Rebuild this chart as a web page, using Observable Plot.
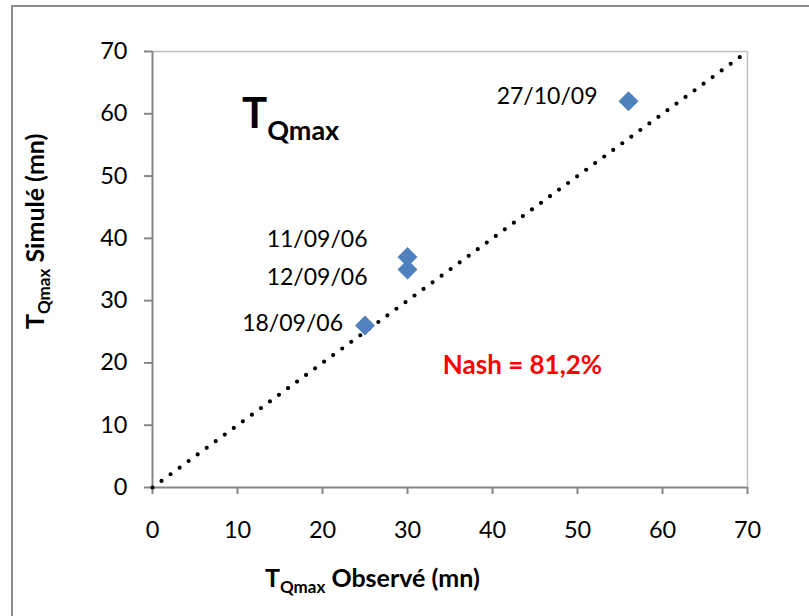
<!DOCTYPE html>
<html>
<head>
<meta charset="utf-8">
<script src="https://cdn.jsdelivr.net/npm/d3@7"></script>
<script src="https://cdn.jsdelivr.net/npm/@observablehq/plot@0.6"></script>
<style>
  html, body { margin: 0; padding: 0; background: #fff; }
  #wrap { position: relative; width: 809px; height: 616px; overflow: hidden; font-family: Lato, "Open Sans", sans-serif; }
  #frame { position: absolute; left: 11px; top: 5px; width: 900px; height: 700px; border-top: 2px solid #8c8c8c; border-left: 2px solid #8c8c8c; pointer-events: none; }
  #wrap svg { position: absolute; left: 0; top: 0; }
</style>
</head>
<body>
<div id="wrap"><div id="frame"></div></div>
<script>
const observed = [25, 30, 30, 56];
const simulated = [26, 35, 37, 62];
const dates = ["18/09/06", "12/09/06", "11/09/06", "27/10/09"];
const xTicks = [0, 10, 20, 30, 40, 50, 60, 70];
const yTicks = [0, 10, 20, 30, 40, 50, 60, 70];
const identityLine = [0, 70];
const nashLabel = "Nash = 81,2%";
const titleMain = "T", titleSub = "Qmax";
const xLabel = " Observé (mn)", yLabel = " Simulé (mn)";

const points = observed.map((x, i) => ({x, y: simulated[i], label: dates[i]}));

// label nudges (pixel offsets relative to each point)
const nudges = [
  {dx: -22, dy: -2},
  {dx: -40, dy: 8},
  {dx: -40, dy: -17},
  {dx: -31, dy: -5}
];

const axisGray = "#868686";
const frameGray = "#c0c0c0";
const FONT = "Lato, 'Open Sans', sans-serif";

const plot = Plot.plot({
  width: 809,
  height: 616,
  marginLeft: 152,
  marginRight: 62,
  marginTop: 51,
  marginBottom: 129,
  style: {fontFamily: FONT, fontSize: "23px", background: "transparent", color: "#000"},
  x: {domain: [0, 70]},
  y: {domain: [0, 70]},
  marks: [
    Plot.ruleY([70], {stroke: frameGray, strokeWidth: 1.5}),
    Plot.ruleX([70], {stroke: frameGray, strokeWidth: 1.5}),
    Plot.ruleY([0], {stroke: axisGray, strokeWidth: 2}),
    Plot.ruleX([0], {stroke: axisGray, strokeWidth: 2}),
    Plot.axisX({ticks: xTicks, tickSize: 7, tickPadding: 27, stroke: axisGray, strokeWidth: 2, fill: "#000", fontSize: 23.5, label: null, tickFormat: d => String(d)}),
    Plot.axisY({ticks: yTicks, tickSize: 8, tickPadding: 17, stroke: axisGray, strokeWidth: 2, fill: "#000", fontSize: 23.5, label: null, tickFormat: d => String(d)}),
    Plot.line(identityLine, {x: d => d, y: d => d, stroke: "#000", strokeWidth: 4.2, strokeDasharray: "0 11.2", strokeLinecap: "round"}),
    Plot.dot(points, {x: "x", y: "y", symbol: "diamond2", r: 9, fill: "#4F81BD", stroke: "none"}),
    ...points.map((p, i) => Plot.text([p], {x: "x", y: "y", text: "label", textAnchor: "end", lineAnchor: "middle", dx: nudges[i].dx, dy: nudges[i].dy, fontSize: 23, fill: "#000"})),
    Plot.text([nashLabel], {frameAnchor: "top-left", dx: 370, dy: 314, text: d => d, textAnchor: "middle", lineAnchor: "middle", fill: "#ff0000", fontSize: 26, fontWeight: "bold"})
  ]
});

document.getElementById("wrap").appendChild(plot);
const svg = d3.select(plot);

// Title T_Qmax
const title = svg.append("text")
  .attr("x", 242).attr("y", 128)
  .attr("text-anchor", "start")
  .attr("font-family", FONT)
  .attr("font-weight", "bold").attr("fill", "#000");
title.append("tspan").attr("font-size", 42).text(titleMain);
title.append("tspan").attr("font-size", 27).attr("dy", 12).text(titleSub);

// X axis label
const xl = svg.append("text")
  .attr("x", 265).attr("y", 587)
  .attr("text-anchor", "start")
  .attr("font-family", FONT)
  .attr("font-weight", "bold").attr("fill", "#000");
xl.append("tspan").attr("font-size", 25).text(titleMain);
xl.append("tspan").attr("font-size", 17).attr("dy", 6).text(titleSub);
xl.append("tspan").attr("font-size", 25).attr("dy", -6).text(xLabel);

// Y axis label
const yl = svg.append("text")
  .attr("transform", "translate(44,329) rotate(-90)")
  .attr("text-anchor", "start")
  .attr("font-family", FONT)
  .attr("font-weight", "bold").attr("fill", "#000");
yl.append("tspan").attr("font-size", 25).text(titleMain);
yl.append("tspan").attr("font-size", 17).attr("dy", 6).text(titleSub);
yl.append("tspan").attr("font-size", 25).attr("dy", -6).text(yLabel);
</script>
</body>
</html>
